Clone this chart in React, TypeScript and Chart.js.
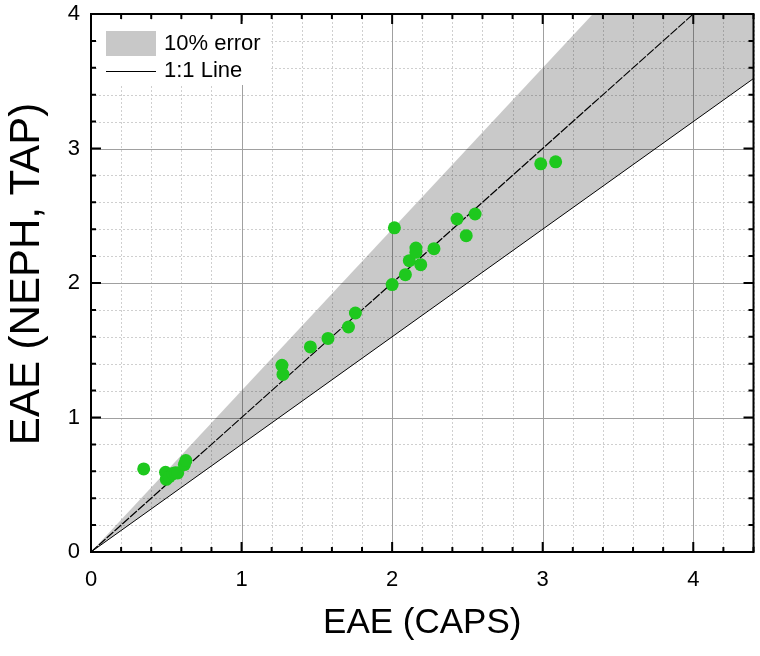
import { useEffect, useRef } from 'react';
import { Chart, registerables } from 'chart.js';

Chart.register(...registerables);

// Axis ranges and tick layout
const X_MIN = 0;
const X_MAX = 4.4;
const Y_MIN = 0;
const Y_MAX = 4;
const X_MAJOR_TICKS = [0, 1, 2, 3, 4];
const Y_MAJOR_TICKS = [0, 1, 2, 3, 4];
const MINOR_STEP = 0.2;

// Paired Ångström exponents: CAPS (x) vs NEPH + TAP (y)
const capsEAE = [
  0.35, 0.495, 0.5, 0.52, 0.545, 0.56, 0.576, 0.62, 0.63,
  1.268, 1.275, 1.457, 1.574, 1.71, 1.756,
  2.0, 2.015, 2.088, 2.114, 2.158, 2.158, 2.19, 2.278, 2.431, 2.492, 2.551,
  2.987, 3.086,
];
const nephTapEAE = [
  0.618, 0.593, 0.54, 0.56, 0.583, 0.59, 0.588, 0.65, 0.68,
  1.388, 1.32, 1.525, 1.588, 1.673, 1.777,
  1.988, 2.41, 2.062, 2.166, 2.26, 2.228, 2.136, 2.255, 2.476, 2.352, 2.513,
  2.886, 2.901,
];

// Reference lines
const REF_X = [0, 4.4];
const BAND_UPPER_SLOPE = 1.2;
const BAND_LOWER_SLOPE = 0.8;

const LEGEND_BAND = '10% error';
const LEGEND_LINE = '1:1 Line';
const X_TITLE = 'EAE (CAPS)';
const Y_TITLE = 'EAE (NEPH, TAP)';

const FONT = 'Arial, "Liberation Sans", sans-serif';
const POINT_COLOR = '#1ec81e';
const BAND_COLOR = 'rgba(0,0,0,0.21)';

function minorValues(min: number, max: number): number[] {
  const out: number[] = [];
  const n = Math.round((max - min) / MINOR_STEP);
  for (let i = 0; i <= n; i++) {
    const v = +(min + i * MINOR_STEP).toFixed(6);
    if (Math.abs(v - Math.round(v)) > 1e-6) out.push(v);
  }
  return out;
}

const framePlugin = {
  id: 'frame',
  beforeDatasetsDraw(chart: any) {
    const { ctx, chartArea: a, scales } = chart;
    const xs = scales.x;
    const ys = scales.y;
    ctx.save();
    // dotted minor grid
    ctx.strokeStyle = '#cfcfcf';
    ctx.lineWidth = 1;
    ctx.setLineDash([2, 2]);
    for (const v of minorValues(X_MIN, X_MAX)) {
      const px = Math.round(xs.getPixelForValue(v)) + 0.5;
      ctx.beginPath();
      ctx.moveTo(px, a.top);
      ctx.lineTo(px, a.bottom);
      ctx.stroke();
    }
    for (const v of minorValues(Y_MIN, Y_MAX)) {
      const py = Math.round(ys.getPixelForValue(v)) + 0.5;
      ctx.beginPath();
      ctx.moveTo(a.left, py);
      ctx.lineTo(a.right, py);
      ctx.stroke();
    }
    // solid major grid
    ctx.setLineDash([]);
    ctx.strokeStyle = '#a0a0a0';
    for (const v of X_MAJOR_TICKS) {
      const px = Math.round(xs.getPixelForValue(v)) + 0.5;
      ctx.beginPath();
      ctx.moveTo(px, a.top);
      ctx.lineTo(px, a.bottom);
      ctx.stroke();
    }
    for (const v of Y_MAJOR_TICKS) {
      const py = Math.round(ys.getPixelForValue(v)) + 0.5;
      ctx.beginPath();
      ctx.moveTo(a.left, py);
      ctx.lineTo(a.right, py);
      ctx.stroke();
    }
    ctx.restore();
  },
  afterDatasetsDraw(chart: any) {
    const { ctx, chartArea: a, scales } = chart;
    const xs = scales.x;
    const ys = scales.y;
    ctx.save();

    // legend panel
    const lx = a.left + 15;
    ctx.fillStyle = '#ffffff';
    ctx.fillRect(a.left + 6, a.top + 7, 172, 64);
    ctx.fillStyle = '#c8c8c8';
    ctx.fillRect(lx, a.top + 17, 50, 25);
    ctx.strokeStyle = '#000';
    ctx.lineWidth = 1;
    ctx.beginPath();
    ctx.moveTo(lx, a.top + 57.5);
    ctx.lineTo(lx + 50, a.top + 57.5);
    ctx.stroke();
    ctx.fillStyle = '#000';
    ctx.font = `22px ${FONT}`;
    ctx.textBaseline = 'middle';
    ctx.textAlign = 'left';
    ctx.fillText(LEGEND_BAND, lx + 58, a.top + 30);
    ctx.fillText(LEGEND_LINE, lx + 58, a.top + 57);

    // inward ticks on all four sides
    ctx.strokeStyle = '#000';
    ctx.lineWidth = 2;
    const majorLen = 10;
    const minorLen = 5;
    const tickX = (v: number, len: number) => {
      const px = xs.getPixelForValue(v);
      ctx.beginPath();
      ctx.moveTo(px, a.bottom);
      ctx.lineTo(px, a.bottom - len);
      ctx.moveTo(px, a.top);
      ctx.lineTo(px, a.top + len);
      ctx.stroke();
    };
    const tickY = (v: number, len: number) => {
      const py = ys.getPixelForValue(v);
      ctx.beginPath();
      ctx.moveTo(a.left, py);
      ctx.lineTo(a.left + len, py);
      ctx.moveTo(a.right, py);
      ctx.lineTo(a.right - len, py);
      ctx.stroke();
    };
    X_MAJOR_TICKS.forEach((v) => tickX(v, majorLen));
    minorValues(X_MIN, X_MAX).forEach((v) => tickX(v, minorLen));
    Y_MAJOR_TICKS.forEach((v) => tickY(v, majorLen));
    minorValues(Y_MIN, Y_MAX).forEach((v) => tickY(v, minorLen));

    // plot frame
    ctx.lineWidth = 2;
    ctx.strokeRect(a.left, a.top, a.right - a.left, a.bottom - a.top);
    ctx.restore();
  },
  afterDraw(chart: any) {
    // vertical axis title
    const { ctx } = chart;
    ctx.save();
    ctx.translate(27, 274);
    ctx.rotate(-Math.PI / 2);
    ctx.fillStyle = '#000';
    ctx.font = `42px ${FONT}`;
    ctx.textAlign = 'center';
    ctx.textBaseline = 'middle';
    ctx.fillText(Y_TITLE, 0, 0);
    ctx.restore();
  },
};

export default function App() {
  const canvasRef = useRef<HTMLCanvasElement | null>(null);

  useEffect(() => {
    const canvas = canvasRef.current;
    if (!canvas) return;

    const points = capsEAE.map((x, i) => ({ x, y: nephTapEAE[i] }));
    const oneToOne = REF_X.map((x) => ({ x, y: x }));
    const upper = REF_X.map((x) => ({ x, y: x * BAND_UPPER_SLOPE }));
    const lower = REF_X.map((x) => ({ x, y: x * BAND_LOWER_SLOPE }));

    const tickFont = { family: FONT, size: 22 };
    const titleFont = { family: FONT, size: 35 };

    const chart = new Chart(canvas, {
      type: 'scatter',
      data: {
        datasets: [
          {
            label: 'EAE',
            data: points,
            backgroundColor: POINT_COLOR,
            borderColor: POINT_COLOR,
            borderWidth: 0,
            pointRadius: 6.5,
            pointHoverRadius: 6.5,
            order: 0,
          },
          {
            type: 'line',
            label: LEGEND_LINE,
            data: oneToOne,
            borderColor: '#000',
            borderWidth: 1.2,
            borderDash: [9, 1.5],
            pointRadius: 0,
            fill: false,
            order: 1,
          },
          {
            type: 'line',
            label: 'lower bound',
            data: lower,
            borderColor: '#000',
            borderWidth: 1,
            pointRadius: 0,
            fill: false,
            order: 2,
          },
          {
            type: 'line',
            label: LEGEND_BAND,
            data: upper,
            borderColor: 'rgba(0,0,0,0)',
            borderWidth: 0,
            backgroundColor: BAND_COLOR,
            pointRadius: 0,
            fill: 2,
            order: 3,
          },
        ],
      } as any,
      options: {
        responsive: false,
        animation: false,
        devicePixelRatio: 1,
        layout: { padding: { top: 14, right: -4, left: 0, bottom: 0 } },
        plugins: {
          legend: { display: false },
          tooltip: { enabled: false },
        },
        scales: {
          x: {
            type: 'linear',
            min: X_MIN,
            max: X_MAX,
            afterBuildTicks: (s: any) => {
              s.ticks = X_MAJOR_TICKS.map((value) => ({ value }));
            },
            afterFit: (s: any) => {
              s.height = 104;
              s.paddingLeft = 0;
              s.paddingRight = 0;
            },
            grid: { display: false, drawTicks: false },
            border: { display: false },
            ticks: {
              color: '#000',
              font: tickFont,
              padding: 15,
              maxRotation: 0,
              autoSkip: false,
            },
            title: {
              display: true,
              text: X_TITLE,
              color: '#000',
              font: titleFont,
              padding: { top: 0, bottom: 12 },
            },
          },
          y: {
            type: 'linear',
            min: Y_MIN,
            max: Y_MAX,
            afterBuildTicks: (s: any) => {
              s.ticks = Y_MAJOR_TICKS.map((value) => ({ value }));
            },
            afterFit: (s: any) => {
              s.width = 91;
              s.paddingTop = 0;
              s.paddingBottom = 0;
            },
            grid: { display: false, drawTicks: false },
            border: { display: false },
            ticks: {
              color: '#000',
              font: tickFont,
              padding: 11,
              autoSkip: false,
            },
          },
        },
      } as any,
      plugins: [framePlugin],
    });

    return () => chart.destroy();
  }, []);

  return (
    <div style={{ position: 'fixed', left: 0, top: 0, width: 760, height: 656, background: '#fff' }}>
      <canvas ref={canvasRef} width={760} height={656} />
    </div>
  );
}
